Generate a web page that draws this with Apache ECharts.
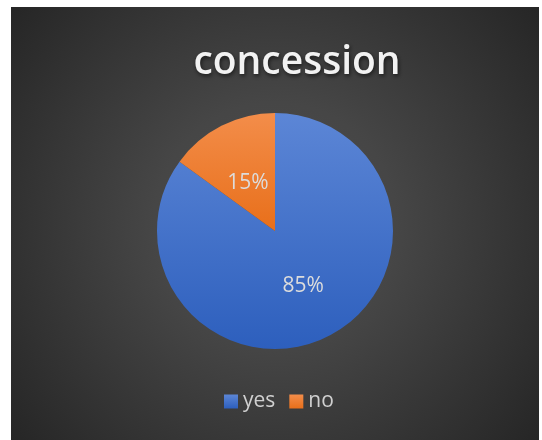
<!DOCTYPE html>
<html>
<head>
<meta charset="utf-8">
<style>
  html, body { margin: 0; padding: 0; background: #ffffff; }
  #chart { width: 542px; height: 440px; }
</style>
<script src="https://cdn.jsdelivr.net/npm/echarts@6/dist/echarts.min.js"></script>
</head>
<body>
<div id="chart"></div>
<script>
// Share of answers to the "concession" question
const categories = ['yes', 'no'];
const shares = [85, 15];
const titleText = 'concession';

const sliceColors = [
  { top: '#5c86d6', bottom: '#2d5fbd' },
  { top: '#f38d4a', bottom: '#e86f1a' }
];

// the small slice keeps its label a little nearer the centre
const labelOffsets = [[0, 0], [1, 7]];

const chart = echarts.init(document.getElementById('chart'), null, { renderer: 'canvas' });

const pieData = categories.map((name, i) => ({
  name: name,
  value: shares[i],
  itemStyle: {
    color: new echarts.graphic.LinearGradient(0, 0, 0, 1, [
      { offset: 0, color: sliceColors[i].top },
      { offset: 1, color: sliceColors[i].bottom }
    ])
  },
  label: { offset: labelOffsets[i] }
}));

chart.setOption({
  backgroundColor: '#ffffff',
  animation: false,
  graphic: [{
    type: 'rect',
    z: -10,
    shape: { x: 11, y: 7, width: 528, height: 433 },
    style: {
      fill: new echarts.graphic.RadialGradient(0.5, 0.5, 0.8, [
        { offset: 0, color: '#4d4d4d' },
        { offset: 0.35, color: '#464646' },
        { offset: 1, color: '#252525' }
      ])
    }
  }],
  title: {
    text: titleText,
    left: 292,
    top: 38,
    textAlign: 'center',
    textStyle: {
      fontFamily: 'Open Sans',
      fontWeight: 600,
      fontSize: 39,
      color: '#f2f2f2',
      textShadowColor: 'rgba(0,0,0,0.6)',
      textShadowBlur: 4,
      textShadowOffsetX: 1,
      textShadowOffsetY: 2
    }
  },
  legend: {
    data: categories,
    left: 224,
    top: 391,
    padding: 0,
    icon: 'rect',
    itemWidth: 14,
    itemHeight: 14,
    itemGap: 14,
    textStyle: {
      fontFamily: 'Open Sans',
      fontSize: 21,
      color: '#d0d0d0'
    }
  },
  series: [{
    type: 'pie',
    center: [275, 231],
    radius: 118,
    startAngle: 90,
    clockwise: true,
    data: pieData,
    label: {
      show: true,
      position: 'inside',
      formatter: '{c}%',
      fontFamily: 'Open Sans',
      fontSize: 21,
      color: '#dcdcdc'
    },
    labelLine: { show: false },
    emphasis: { disabled: true }
  }]
});
</script>
</body>
</html>
